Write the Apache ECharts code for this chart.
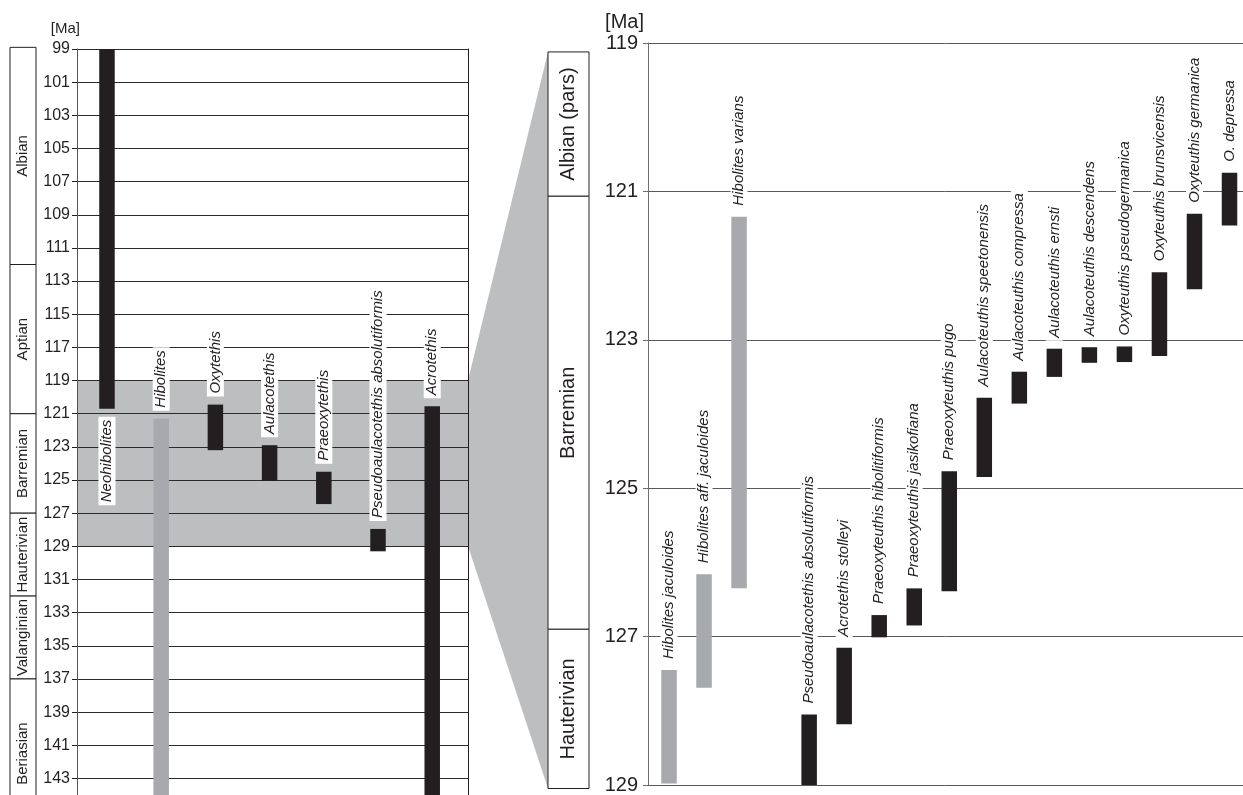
<!DOCTYPE html>
<html><head><meta charset="utf-8">
<script src="https://cdn.jsdelivr.net/npm/echarts@6/dist/echarts.min.js"></script>
<style>html,body{margin:0;padding:0;background:#fff}#c{width:1243px;height:795px}</style>
</head><body><div id="c"></div>
<script>
// ---------- Left panel: genera ----------
const genusNames  = ['Neohibolites','Hibolites','Oxytethis','Aulacotethis','Praeoxytethis','Pseudoaulacotethis absolutiformis','Acrotethis'];
const genusStart  = [99, 121.3, 120.45, 122.9, 124.5, 127.95, 120.55];
const genusEnd    = [120.7, 145, 123.2, 125.05, 126.45, 129.3, 145];
const genusGroup  = ['b','g','b','b','b','b','b'];

const leftStages     = ['Albian','Aptian','Barremian','Hauterivian','Valanginian','Beriasian'];
const leftStageStart = [98.9, 112, 121, 127, 132, 137];
const leftStageEnd   = [112, 121, 127, 132, 137, 146];

const leftAxisMin = 99, leftAxisMax = 144, leftAxisStep = 2;
const focusRange = [119, 129];
const unitLabel = '[Ma]';

// ---------- Right panel: species ----------
const speciesNames = ['Hibolites jaculoides','Hibolites aff. jaculoides','Hibolites varians','',
  'Pseudoaulacotethis absolutiformis','Acrotethis stolleyi','Praeoxyteuthis hibolitiformis',
  'Praeoxyteuthis jasikofiana','Praeoxyteuthis pugo','Aulacoteuthis speetonensis',
  'Aulacoteuthis compressa','Aulacoteuthis ernsti','Aulacoteuthis descendens',
  'Oxyteuthis pseudogermanica','Oxyteuthis brunsvicensis','Oxyteuthis germanica','O. depressa'];
const speciesStart = [127.45,126.16,121.34,null,128.05,127.15,126.71,126.35,124.77,123.78,123.43,123.12,123.10,123.09,122.09,121.30,120.75];
const speciesEnd   = [128.98,127.69,126.35,null,129.0,128.18,127.01,126.85,126.39,124.85,123.86,123.50,123.31,123.30,123.22,122.32,121.46];
const speciesGroup = ['g','g','g',null,'b','b','b','b','b','b','b','b','b','b','b','b','b'];

const rightStages     = ['Albian (pars)','Barremian','Hauterivian'];
const rightStageStart = [119.12, 121.06, 126.88];
const rightStageEnd   = [121.06, 126.88, 129.02];

const rightAxisMin = 119, rightAxisMax = 129, rightAxisStep = 2;

// ---------- styling ----------
const FONT = '"Liberation Sans", Arial, Helvetica, sans-serif';
const INK = '#231f20', GREYBAR = '#a7a9ac', BAND = '#bcbec0';

function barRenderer(names, groups, axisMin, fontSize) {
  return function (params, api) {
    const i = api.value(0), s = api.value(1), e = api.value(2);
    const a = api.coord([i, s]), b = api.coord([i, e]);
    const w = 15.5, gap = 8;
    const below = s <= axisMin;
    return {
      type: 'group',
      children: [
        { type: 'rect', shape: { x: a[0] - w / 2, y: a[1], width: w, height: b[1] - a[1] },
          style: { fill: groups[i] === 'g' ? GREYBAR : INK } },
        { type: 'text', x: a[0], y: below ? b[1] + gap : a[1] - gap, rotation: Math.PI / 2,
          style: { text: names[i], fontSize: fontSize, fontStyle: 'italic', fontFamily: FONT,
                   fill: INK, align: below ? 'right' : 'left', verticalAlign: 'middle',
                   backgroundColor: '#fff', padding: [1, 3] } }
      ]
    };
  };
}

function stageRenderer(names, fontSize) {
  return function (params, api) {
    const s = api.value(0), e = api.value(1), k = api.value(2);
    const cs = params.coordSys;
    const y1 = api.coord([0, s])[1], y2 = api.coord([0, e])[1];
    return {
      type: 'group',
      children: [
        { type: 'rect', shape: { x: cs.x, y: y1, width: cs.width, height: y2 - y1 },
          style: { fill: '#fff', stroke: INK, lineWidth: 1 } },
        { type: 'text', x: cs.x + cs.width / 2, y: (y1 + y2) / 2, rotation: Math.PI / 2,
          style: { text: names[k], fontSize: fontSize, fontFamily: FONT, fill: INK,
                   align: 'center', verticalAlign: 'middle' } }
      ]
    };
  };
}

const hiddenX = (min, max, gi) => ({ type: 'value', gridIndex: gi, min: min, max: max, show: false });

const chart = echarts.init(document.getElementById('c'), null, { renderer: 'canvas' });

const option = {
  animation: false,
  backgroundColor: '#fff',
  grid: [
    { left: 77, top: 49, width: 391, height: 747.5 },      // 0 left plot
    { left: 648, top: 43, right: 0, height: 744 },         // 1 right plot
    { left: 10, top: 49, width: 26, height: 747.5 },       // 2 left stages
    { left: 548, top: 43, width: 41, height: 744 }         // 3 right stages
  ],
  xAxis: [
    hiddenX(-0.553, 6.66, 0),
    hiddenX(-0.6, 16.385, 1),
    hiddenX(0, 1, 2),
    hiddenX(0, 1, 3)
  ],
  yAxis: [
    { type: 'value', gridIndex: 0, inverse: true, min: leftAxisMin, max: leftAxisMax, interval: leftAxisStep, z: 2,
      axisLine: { show: true, onZero: false, lineStyle: { color: '#555', width: 1 } },
      axisTick: { show: true, length: 5, lineStyle: { color: INK } },
      axisLabel: { fontSize: 16, fontFamily: FONT, color: INK, margin: 7, showMaxLabel: false },
      splitLine: { show: true, lineStyle: { color: '#2b2b2b', width: 1 } } },
    { type: 'value', gridIndex: 0, position: 'right', inverse: true, min: leftAxisMin, max: leftAxisMax, z: 2,
      axisLine: { show: true, onZero: false, lineStyle: { color: INK, width: 1 } },
      axisTick: { show: false }, axisLabel: { show: false }, splitLine: { show: false } },
    { type: 'value', gridIndex: 1, inverse: true, min: rightAxisMin, max: rightAxisMax, interval: rightAxisStep, z: 2,
      axisLine: { show: true, onZero: false, lineStyle: { color: '#6d6e71', width: 1 } },
      axisTick: { show: true, length: 5, lineStyle: { color: '#6d6e71' } },
      axisLabel: { fontSize: 20, fontFamily: FONT, color: INK, margin: 10 },
      splitLine: { show: true, lineStyle: { color: '#58595b', width: 1 } } },
    { type: 'value', gridIndex: 2, inverse: true, min: leftAxisMin, max: leftAxisMax, show: false },
    { type: 'value', gridIndex: 3, inverse: true, min: rightAxisMin, max: rightAxisMax, show: false }
  ],
  series: [
    { type: 'custom', xAxisIndex: 0, yAxisIndex: 0, z: 1, silent: true,
      data: [[0, focusRange[0], focusRange[1]]],
      renderItem: function (params, api) {
        const cs = params.coordSys;
        const y1 = api.coord([0, api.value(1)])[1], y2 = api.coord([0, api.value(2)])[1];
        return { type: 'rect', shape: { x: cs.x, y: y1, width: cs.width, height: y2 - y1 }, style: { fill: BAND } };
      } },
    { type: 'custom', xAxisIndex: 0, yAxisIndex: 0, z: 3, silent: true,
      data: genusNames.map((n, i) => [i, genusStart[i], genusEnd[i]]),
      renderItem: barRenderer(genusNames, genusGroup, leftAxisMin, 15) },
    { type: 'custom', xAxisIndex: 1, yAxisIndex: 2, z: 3, silent: true,
      data: speciesNames.map((n, i) => n ? [i, speciesStart[i], speciesEnd[i]] : null).filter(Boolean),
      renderItem: barRenderer(speciesNames, speciesGroup, rightAxisMin - 1, 15) },
    { type: 'custom', xAxisIndex: 2, yAxisIndex: 3, z: 3, silent: true,
      data: leftStages.map((n, k) => [leftStageStart[k], leftStageEnd[k], k]),
      encode: { y: [0, 1] },
      renderItem: stageRenderer(leftStages, 15) },
    { type: 'custom', xAxisIndex: 3, yAxisIndex: 4, z: 3, silent: true,
      data: rightStages.map((n, k) => [rightStageStart[k], rightStageEnd[k], k]),
      encode: { y: [0, 1] },
      renderItem: stageRenderer(rightStages, 20) }
  ]
};
chart.setOption(option);

// connector wedge from the left focus band to the right stage column, plus unit labels
const xL = chart.convertToPixel({ xAxisIndex: 0 }, 6.66);
const xL0 = chart.convertToPixel({ xAxisIndex: 0 }, -0.553);
const yL0 = chart.convertToPixel({ yAxisIndex: 0 }, leftAxisMin);
const yL1 = chart.convertToPixel({ yAxisIndex: 0 }, focusRange[0]);
const yL2 = chart.convertToPixel({ yAxisIndex: 0 }, focusRange[1]);
const xR = chart.convertToPixel({ xAxisIndex: 3 }, 0);
const yR1 = chart.convertToPixel({ yAxisIndex: 4 }, rightStageStart[0]);
const yR2 = chart.convertToPixel({ yAxisIndex: 4 }, rightStageEnd[rightStageEnd.length - 1]);
const xP0 = chart.convertToPixel({ xAxisIndex: 1 }, -0.6);
const yP0 = chart.convertToPixel({ yAxisIndex: 2 }, rightAxisMin);
chart.setOption({
  graphic: [
    { type: 'polygon', z: 1, silent: true,
      shape: { points: [[xL, yL1], [xR, yR1], [xR, yR2], [xL, yL2]] },
      style: { fill: BAND } },
    { type: 'text', x: xL0 + 3, y: yL0 - 20, silent: true,
      style: { text: unitLabel, fontSize: 15, fontFamily: FONT, fill: INK, align: 'right', verticalAlign: 'middle' } },
    { type: 'text', x: xP0 - 4, y: yP0 - 21, silent: true,
      style: { text: unitLabel, fontSize: 20, fontFamily: FONT, fill: INK, align: 'right', verticalAlign: 'middle' } }
  ]
});
</script>
</body></html>
